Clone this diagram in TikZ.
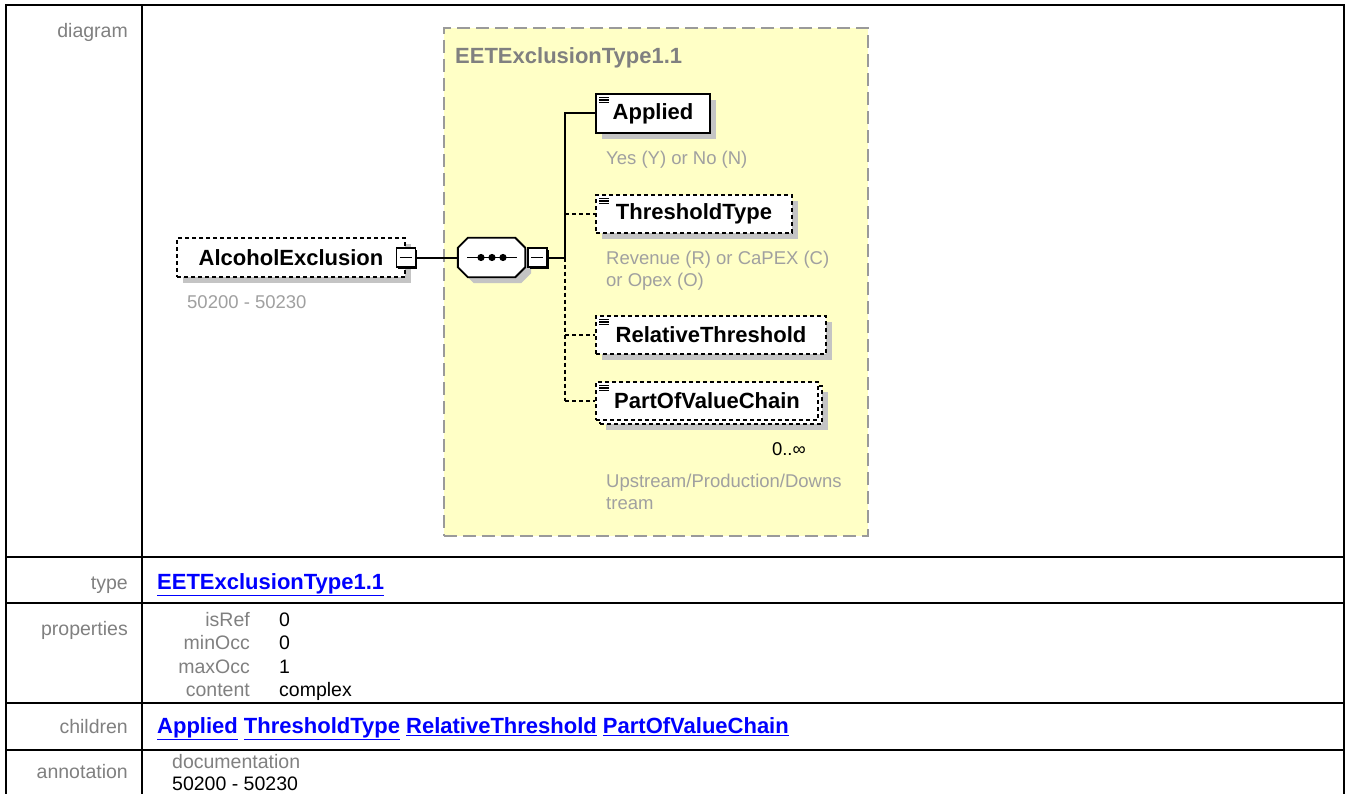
\documentclass[tikz,border=0pt]{standalone}
\usepackage{fontspec}
\setmainfont{Liberation Sans}
\usetikzlibrary{positioning,shadows,calc}

\definecolor{cplxyellow}{HTML}{FFFFC6}
\definecolor{cplxborder}{HTML}{9A9A9A}
\definecolor{docgray}{HTML}{A0A0A0}
\definecolor{labelgray}{HTML}{808080}
\definecolor{linkblue}{HTML}{0000FF}
\definecolor{shadowgray}{HTML}{C4C4C4}

\newcommand\elemfont{\fontsize{22}{25}\selectfont\bfseries}
\newcommand\docfont{\fontsize{18.5}{22}\selectfont}
\newcommand\tblfont{\fontsize{19.5}{23}\selectfont}
\newcommand\linkfont{\fontsize{22}{26}\selectfont\bfseries}

% octagon round a node: node name, x offset, y offset
\newcommand\octagonpath[3]{%
  ($(#1.north west)+(10+#2,#3)$) -- ($(#1.north east)+(-10+#2,#3)$) --
  ($(#1.north east)+(#2,10+#3)$) -- ($(#1.south east)+(#2,-10+#3)$) --
  ($(#1.south east)+(-10+#2,#3)$) -- ($(#1.south west)+(10+#2,#3)$) --
  ($(#1.south west)+(#2,-10+#3)$) -- ($(#1.north west)+(#2,10+#3)$) -- cycle}

\begin{document}
\begin{tikzpicture}[x=1pt, y=-1pt,
    txt/.style={inner sep=0pt, text height=18pt, text depth=3pt},
    rowlabel/.style={txt, anchor=east, text=labelgray, font=\tblfont},
    propval/.style={txt, anchor=west, font=\tblfont},
    link/.style={txt, anchor=west, text=linkblue, font=\linkfont},
    doc/.style={inner sep=0pt, anchor=north west, align=left, text=docgray, font=\docfont},
    tblline/.style={line width=2pt},
    cplxbox/.style={draw=cplxborder, fill=cplxyellow, line width=1.5pt,
                    dash pattern=on 13pt off 6pt, inner sep=0pt,
                    minimum width=424pt, minimum height=508pt},
    elem/.style={draw, fill=white, line width=1.9pt, font=\elemfont,
                 inner sep=0pt, minimum height=39pt},
    boxshadow/.style={drop shadow={shadow xshift=6pt, shadow yshift=-6pt,
                      fill=shadowgray, opacity=1}},
    optional/.style={dash pattern=on 4pt off 3pt},
    leaf/.style={path picture={
        \foreach \dy in {3.5pt,6pt,8.5pt}
          \draw[solid, line width=1.3pt]
            ([shift={(3pt,-\dy)}]path picture bounding box.north west) -- ++(10pt,0);}},
    toggle/.style={draw, fill=white, line width=1.5pt, minimum size=19pt, inner sep=0pt,
                   drop shadow={shadow xshift=2pt, shadow yshift=-2pt, fill=black, opacity=1},
                   path picture={\draw[solid, line width=1.5pt]
                     ([xshift=3.5pt]path picture bounding box.west) --
                     ([xshift=-3.5pt]path picture bounding box.east);}},
    seqbox/.style={minimum width=67pt, minimum height=39pt, inner sep=0pt},
    conn/.style={line width=2pt}
  ]

  \useasboundingbox (0,0) rectangle (1348,794);
  \fill[white] (0,0) rectangle (1348,794);

  % ===== table frame =====
  \draw[tblline] (6,800) -- (6,5) -- (1344,5) -- (1344,800);
  \draw[tblline] (142,5) -- (142,800);
  \foreach \ry in {557,603,703,750}
    \draw[tblline] (6,\ry) -- (1344,\ry);

  % ===== row labels =====
  \node[rowlabel] (lbldiag)  at (128,30)  {diagram};
  \node[rowlabel] (lbltype)  at (128,582) {type};
  \node[rowlabel] (lblprops) at (128,628) {properties};
  \node[rowlabel] (lblchild) at (128,726) {children};
  \node[rowlabel] (lblannot) at (128,771) {annotation};

  % ===== complex type frame =====
  \node[cplxbox] (cplx) at (656,282) {};
  \node[txt, anchor=west, text=labelgray, font=\elemfont] (cplxtitle)
    at (455,56) {EETExclusionType1.1};

  % ===== element and sequence =====
  \node[elem, optional, boxshadow, minimum width=228pt] (alc) at (291,257.5) {AlcoholExclusion};
  \node[toggle] (alctog) at (alc.east) {};
  \node[doc] (alcdoc) at (187,295) {50200 - 50230};

  \node[seqbox] (seq) at (491.5,257.5) {};
  \fill[shadowgray] \octagonpath{seq}{6}{6};
  \draw[line width=1.9pt, fill=white] \octagonpath{seq}{0}{0};
  \draw[line width=1.8pt] ([xshift=-24.5pt]seq.center) -- ([xshift=25.5pt]seq.center);
  \foreach \dx in {-10.5pt,0.5pt,11.5pt}
    \fill ([xshift=\dx]seq.center) circle (3.6pt);
  \node[toggle, right=2pt of seq] (seqtog) {};
  \coordinate (trunk) at (565,257.5);

  % ===== children =====
  \node[elem, leaf, boxshadow, minimum width=114pt] (applied) at (653,113.5) {Applied};
  \node[doc] (applieddoc) at (606,151) {Yes (Y) or No (N)};

  \node[elem, leaf, optional, boxshadow, minimum width=196pt, minimum height=38pt]
    (thtype) at (694,214) {ThresholdType};
  \node[doc] (thtypedoc) at (606,251) {Revenue (R) or CaPEX (C)\\or Opex (O)};

  \node[elem, leaf, optional, boxshadow, minimum width=230pt, minimum height=38pt]
    (relth) at (711,335) {RelativeThreshold};

  \node[elem, optional, boxshadow, minimum width=222pt, minimum height=38pt]
    (povback) at (711,405) {};
  \node[elem, leaf, optional, minimum width=222pt, minimum height=38pt]
    (pov) at (707,401) {PartOfValueChain};
  \node[txt, anchor=east, font=\docfont] (povocc) at (806,448) {0..∞};
  \node[doc] (povdoc) at (606,474) {Upstream/Production/Downs\\tream};

  % ===== connectors =====
  \draw[conn] (alctog.east) -- (seq.west);
  \draw[conn] (seqtog.east) -- (trunk);
  \draw[conn] (trunk) -- (trunk |- applied.west) -- (applied.west);
  \draw[conn, optional] (trunk) -- (trunk |- pov.west);
  \draw[conn, optional] (trunk |- thtype.west) -- (thtype.west);
  \draw[conn, optional] (trunk |- relth.west) -- (relth.west);
  \draw[conn, optional] (trunk |- pov.west) -- (pov.west);

  % ===== type row =====
  \node[link] (typelink) at (157,582) {\underline{EETExclusionType1.1}};

  % ===== properties row =====
  \foreach \pname/\pval/\py in {isRef/0/619, minOcc/0/642, maxOcc/1/666, content/complex/689} {
    \node[rowlabel] (prop\pname) at (250,\py) {\pname};
    \node[propval] (val\pname) at (279,\py) {\pval};
  }

  % ===== children row =====
  \node[link] (childlinks) at (157,726)
    {\underline{Applied} \underline{ThresholdType} \underline{RelativeThreshold} \underline{PartOfValueChain}};

  % ===== annotation row =====
  \node[txt, anchor=west, text=labelgray, font=\tblfont] (annotkey) at (172,761) {documentation};
  \node[txt, anchor=west, font=\tblfont] (annotval) at (172,783) {50200 - 50230};

\end{tikzpicture}
\end{document}
